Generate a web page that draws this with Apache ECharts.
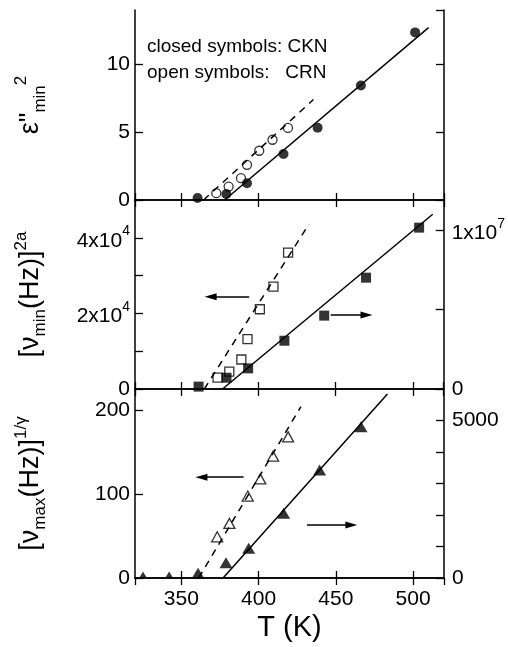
<!DOCTYPE html>
<html>
<head>
<meta charset="utf-8">
<title>ECharts</title>
<script src="https://cdn.jsdelivr.net/npm/echarts@6/dist/echarts.min.js"></script>
<style>html,body{margin:0;padding:0;background:#fff;}</style>
</head>
<body>
<div id="main" style="width:508px;height:647px;"></div>
<script type="text/javascript">
var FONT = '"Liberation Sans", Arial, sans-serif';

// panel 1: eps''_min^2 vs T
var ckn_eps = [[360.5, 0.15], [379.1, 0.44], [392.5, 1.24], [416.1, 3.39], [438.2, 5.33], [466.2, 8.44], [501.3, 12.35]];
var crn_eps = [[372.6, 0.5], [380.6, 0.99], [388.6, 1.61], [392.5, 2.59], [400.4, 3.63], [409, 4.44], [419, 5.31]];
var fit_ckn_eps = [[378, 0], [510, 12.7]];
var fit_crn_eps = [[364.4, 0], [435.5, 7.4]];

// panel 2: [nu_min]^2a  (CRN on left axis, CKN on right axis)
var ckn_nmin = [[361.2, 0.15e6], [379.3, 0.71e6], [393.3, 1.3e6], [416.8, 3.04e6], [442.6, 4.62e6], [469.7, 7.01e6], [504.1, 10.16e6]];
var crn_nmin = [[373.5, 3.0e3], [381.1, 4.6e3], [388.9, 7.8e3], [392.9, 13.2e3], [400.9, 21.1e3], [409.7, 27.1e3], [419.2, 36.1e3]];
var fit_ckn_nmin = [[376.7, 0], [512.9, 11.0e6]];
var fit_crn_nmin = [[364.9, 0], [432.7, 43.6e3]];

// panel 3: [nu_max]^(1/gamma)
var ckn_nmax = [[325.2, 0], [342.1, 0], [360.8, 150], [378.9, 486], [393.6, 943], [416.2, 2054], [439.5, 3429], [466.3, 4804]];
var crn_nmax = [[373.2, 49], [381.1, 65], [393, 97.6], [401.1, 118], [409.4, 145], [419.1, 168]];
var fit_ckn_nmax = [[377, 0], [483.4, 5841]];
var fit_crn_nmax = [[361.2, 0], [427.4, 204]];

// arrows: [T from, T to, y]
var arrow_nmin_left = [394, 369, 24400];
var arrow_nmin_right = [446.8, 470, 4.66e6];
var arrow_nmax_left = [390.3, 363, 120];
var arrow_nmax_right = [431.3, 460, 1683];

var T_MIN = 320, T_MAX = 520;

var myChart = echarts.init(document.getElementById('main'));

var supRich = {
	a: {fontSize: 21, fontFamily: FONT, color: '#000', lineHeight: 27, verticalAlign: 'bottom'},
	s: {fontSize: 14, fontFamily: FONT, color: '#000', lineHeight: 14, verticalAlign: 'top'}
};
var nameRich = {
	t: {fontSize: 27, fontFamily: FONT, color: '#000', lineHeight: 36},
	sub: {fontSize: 17, fontFamily: FONT, color: '#000', lineHeight: 17, verticalAlign: 'bottom'},
	sup: {fontSize: 17, fontFamily: FONT, color: '#000', lineHeight: 17, verticalAlign: 'top'}
};

function xAx(grid, pos, showLabel) {
	var ax = {
		type: 'value', gridIndex: grid, position: pos, min: T_MIN, max: T_MAX, splitNumber: 4,
		axisLine: {show: true, lineStyle: {color: '#000', width: 1.5}},
		axisTick: {show: true, inside: true, length: 7, lineStyle: {color: '#000', width: 1.3}},
		axisLabel: {show: showLabel, showMinLabel: false, showMaxLabel: false, fontSize: 21, fontFamily: FONT, color: '#000', margin: 11},
		splitLine: {show: false}
	};
	if (showLabel) {
		ax.name = 'T (K)';
		ax.nameLocation = 'middle';
		ax.nameGap = 35;
		ax.nameTextStyle = {fontSize: 29, fontFamily: FONT, color: '#000'};
	}
	return ax;
}

function yAx(grid, pos, max, interval, fmt, name) {
	var ax = {
		type: 'value', gridIndex: grid, position: pos, min: 0, max: max, interval: interval,
		axisLine: {show: true, lineStyle: {color: '#000', width: 1.5}},
		axisTick: {show: true, inside: true, length: 8, lineStyle: {color: '#000', width: 1.3}},
		axisLabel: fmt ? {show: true, formatter: fmt, showMaxLabel: false, fontSize: 21, fontFamily: FONT, color: '#000', margin: pos === 'left' ? 5 : 8, rich: supRich} : {show: false},
		splitLine: {show: false}
	};
	if (name) {
		ax.name = name;
		ax.nameLocation = 'middle';
		ax.nameRotate = 90;
		ax.nameGap = 86;
		ax.nameTextStyle = {fontFamily: FONT, color: '#000', rich: nameRich};
	}
	return ax;
}

// points lying on the x axis only show their upper part, as in the original plot
function onAxisItems(data, size) {
	return data.map(function (p) {
		if (p[1] !== 0) return p;
		return {value: p, symbolSize: [size[0] * 0.6, size[1] * 0.6], symbolOffset: [0, -size[1] * 0.3]};
	});
}

function scatter(data, xi, yi, symbol, size, open) {
	return {
		type: 'scatter', xAxisIndex: xi, yAxisIndex: yi, data: data, symbol: symbol, symbolSize: size,
		clip: true, silent: true,
		itemStyle: open ? {color: '#fff', borderColor: '#000', borderWidth: 1.3} : {color: '#000'}
	};
}

function fitLine(data, xi, yi, dashed, arrow) {
	var s = {
		type: 'line', xAxisIndex: xi, yAxisIndex: yi, data: data, showSymbol: false, symbol: 'none',
		silent: true, clip: true,
		lineStyle: {color: '#000', width: 1.5, type: dashed ? [7, 6] : 'solid'}
	};
	if (arrow) {
		s.markLine = {
			silent: true, animation: false, symbol: ['none', 'triangle'], symbolSize: [7, 12],
			label: {show: false},
			lineStyle: {color: '#000', width: 1.5, type: 'solid'},
			data: [[{coord: [arrow[0], arrow[2]]}, {coord: [arrow[1], arrow[2]]}]]
		};
	}
	return s;
}

var option = {
	animation: false,
	backgroundColor: '#fff',
	grid: [
		{left: 135, right: 64, top: 10, height: 190},
		{left: 135, right: 64, top: 200, height: 189},
		{left: 135, right: 64, top: 389, height: 189}
	],
	xAxis: [
		xAx(0, 'bottom', false), xAx(0, 'top', false),
		xAx(1, 'bottom', false), xAx(1, 'top', false),
		xAx(2, 'bottom', true), xAx(2, 'top', false)
	],
	yAxis: [
		yAx(0, 'left', 14, 5, function (v) { return v % 5 === 0 ? String(v) : ''; },
			'{t|ε"}{sub|min}{sup|2}'),
		yAx(0, 'right', 14, 5, null),
		yAx(1, 'left', 50000, 10000, function (v) {
			if (v === 0) return '0';
			if (v === 20000) return '{a|2x10}{s|4}';
			if (v === 40000) return '{a|4x10}{s|4}';
			return '';
		}, '{t|[ν}{sub|min}{t|(Hz)]}{sup|2a}'),
		yAx(1, 'right', 1.19e7, 5e6, function (v) {
			if (v === 0) return '0';
			if (v === 1e7) return '{a|1x10}{s|7}';
			return '';
		}),
		yAx(2, 'left', 225, 100, function (v) { return v % 100 === 0 ? String(v) : ''; },
			'{t|[ν}{sub|max}{t|(Hz)]}{sup|1/γ}'),
		yAx(2, 'right', 6000, 1000, function (v) { return (v === 0 || v === 5000) ? String(v) : ''; })
	],
	graphic: [{
		type: 'text', left: 147, top: 34,
		style: {text: 'closed symbols: CKN\nopen symbols:   CRN', font: '19px ' + FONT, fill: '#000', lineHeight: 26}
	}],
	series: [
		fitLine(fit_ckn_eps, 0, 0, false),
		fitLine(fit_crn_eps, 0, 0, true),
		scatter(crn_eps, 0, 0, 'circle', 9, true),
		scatter(ckn_eps, 0, 0, 'circle', 10, false),

		fitLine(fit_ckn_nmin, 2, 3, false, arrow_nmin_right),
		fitLine(fit_crn_nmin, 2, 2, true, arrow_nmin_left),
		scatter(crn_nmin, 2, 2, 'rect', 9, true),
		scatter(ckn_nmin, 2, 3, 'rect', 10, false),

		fitLine(fit_ckn_nmax, 4, 5, false, arrow_nmax_right),
		fitLine(fit_crn_nmax, 4, 4, true, arrow_nmax_left),
		scatter(crn_nmax, 4, 4, 'triangle', [11, 10], true),
		scatter(onAxisItems(ckn_nmax, [13, 11]), 4, 5, 'triangle', [13, 11], false)
	]
};

myChart.setOption(option);
</script>
</body>
</html>
